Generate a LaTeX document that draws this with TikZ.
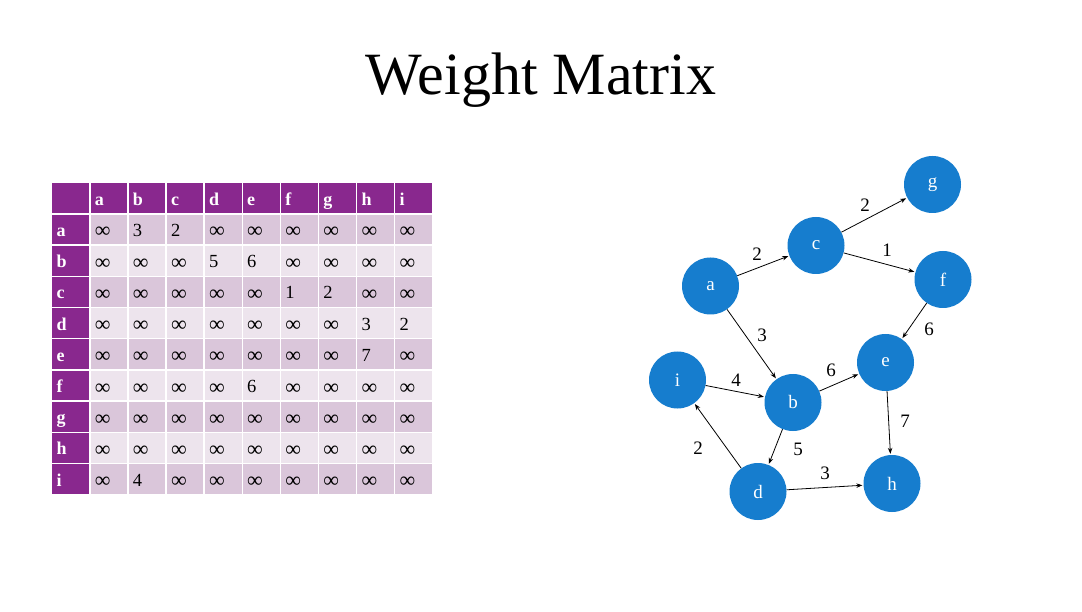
\documentclass[tikz,border=0pt]{standalone}
\usepackage{fontspec}
\setmainfont{Liberation Serif}
\usetikzlibrary{arrows.meta}
\definecolor{hdrpurple}{RGB}{137,40,142}
\definecolor{banddark}{RGB}{218,198,218}
\definecolor{bandlight}{RGB}{237,228,237}
\definecolor{vtxblue}{RGB}{22,125,206}
% infinity sign, set a little larger than the digits and lowered onto their middle
\newcommand{\infsign}{\raisebox{-1.5pt}{\fontsize{22}{22}\selectfont ∞}}
\tikzset{
  cellbase/.style={rectangle, draw=white, line width=1.4pt, minimum height=31.2pt,
    inner xsep=5pt, inner ysep=0pt, text width=28.1pt, text height=14pt, text depth=0pt,
    align=left, anchor=north west, font=\fontsize{18.5}{18.5}\selectfont},
  hdrcell/.style={cellbase, fill=hdrpurple, text=white, font=\fontsize{18}{18}\selectfont\bfseries},
  darkcell/.style={cellbase, fill=banddark},
  lightcell/.style={cellbase, fill=bandlight},
  vertex/.style={circle, fill=vtxblue, minimum size=57pt, inner sep=0pt, text=white,
    font=\fontsize{19}{19}\selectfont},
  edge/.style={-{Stealth[length=6pt,width=4.5pt]}, line width=0.8pt, shorten >=1pt},
  wlabel/.style={font=\fontsize{19}{19}\selectfont, inner sep=0pt}
}
\begin{document}
\begin{tikzpicture}[x=1pt,y=-1pt]
\useasboundingbox[fill=white] (0,0) rectangle (1082,612);

% title
\node[anchor=base, font=\fontsize{60}{60}\selectfont, inner sep=0pt] (title) at (541,95) {Weight Matrix};

% weight matrix table
\def\cw{38.1}
\def\rh{31.2}
\node[hdrcell] (hdr-0) at (51,182) {};
\foreach \lab [count=\c] in {a,b,c,d,e,f,g,h,i}
  \node[hdrcell] (hdr-\c) at ({51+\c*\cw},182) {\lab};
\foreach \lab/\vals [count=\r] in {
  a/{\infsign,3,2,\infsign,\infsign,\infsign,\infsign,\infsign,\infsign},
  b/{\infsign,\infsign,\infsign,5,6,\infsign,\infsign,\infsign,\infsign},
  c/{\infsign,\infsign,\infsign,\infsign,\infsign,1,2,\infsign,\infsign},
  d/{\infsign,\infsign,\infsign,\infsign,\infsign,\infsign,\infsign,3,2},
  e/{\infsign,\infsign,\infsign,\infsign,\infsign,\infsign,\infsign,7,\infsign},
  f/{\infsign,\infsign,\infsign,\infsign,6,\infsign,\infsign,\infsign,\infsign},
  g/{\infsign,\infsign,\infsign,\infsign,\infsign,\infsign,\infsign,\infsign,\infsign},
  h/{\infsign,\infsign,\infsign,\infsign,\infsign,\infsign,\infsign,\infsign,\infsign},
  i/{\infsign,4,\infsign,\infsign,\infsign,\infsign,\infsign,\infsign,\infsign}} {
  \pgfmathsetmacro{\band}{ifthenelse(mod(\r,2)==1,1,0)}
  \node[hdrcell] (row-\r) at (51,{182+\r*\rh}) {\lab};
  \foreach \v [count=\c] in \vals {
    \ifnum\band=1
      \node[darkcell] (cell-\r-\c) at ({51+\c*\cw},{182+\r*\rh}) {\v};
    \else
      \node[lightcell] (cell-\r-\c) at ({51+\c*\cw},{182+\r*\rh}) {\v};
    \fi
  }
}

% graph
\node[vertex] (a) at (710.5,286) {a};
\node[vertex] (c) at (816,245.5) {c};
\node[vertex] (g) at (932.5,184.5) {g};
\node[vertex] (f) at (943,279.5) {f};
\node[vertex] (e) at (885.5,362.5) {e};
\node[vertex] (i) at (677.5,380) {i};
\node[vertex] (b) at (793,402.5) {b};
\node[vertex] (d) at (758,491.5) {d};
\node[vertex] (h) at (892,483.5) {h};

\draw[edge] (a) -- (c);
\draw[edge] (c) -- (g);
\draw[edge] (c) -- (f);
\draw[edge] (f) -- (e);
\draw[edge] (a) -- (b);
\draw[edge] (i) -- (b);
\draw[edge] (b) -- (e);
\draw[edge] (e) -- (h);
\draw[edge] (d) -- (i);
\draw[edge] (b) -- (d);
\draw[edge] (d) -- (h);

\node[wlabel] (w-ac) at (757,254) {2};
\node[wlabel] (w-cg) at (865,205) {2};
\node[wlabel] (w-cf) at (887,250) {1};
\node[wlabel] (w-fe) at (929,329) {6};
\node[wlabel] (w-ab) at (762,335) {3};
\node[wlabel] (w-ib) at (736,380) {4};
\node[wlabel] (w-be) at (831,370) {6};
\node[wlabel] (w-eh) at (905,421) {7};
\node[wlabel] (w-di) at (698,448) {2};
\node[wlabel] (w-bd) at (798,449) {5};
\node[wlabel] (w-dh) at (825,473) {3};
\end{tikzpicture}
\end{document}
